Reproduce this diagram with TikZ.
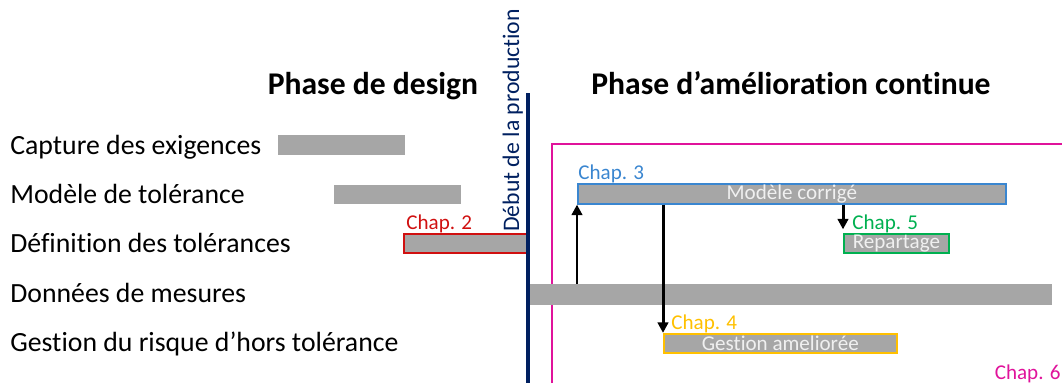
\documentclass[tikz,border=0pt]{standalone}
\usepackage{fontspec}
\setmainfont{Carlito}[Ligatures=NoCommon]
\usetikzlibrary{arrows.meta}
\definecolor{barGray}{HTML}{A6A6A6}
\definecolor{prodNavy}{HTML}{002060}
\definecolor{chapRed}{HTML}{D01010}
\definecolor{chapBlue}{HTML}{3A86D0}
\definecolor{chapGreen}{HTML}{00B050}
\definecolor{chapYellow}{HTML}{FFC000}
\definecolor{chapPink}{HTML}{E0139B}
\begin{document}
\begin{tikzpicture}[x=0.02cm, y=-0.02cm,
task/.style={fill=barGray, minimum height=0.39cm, inner sep=0pt, anchor=west, text=white!94!black, font=\fontsize{12}{14}\selectfont},
framed/.style={draw=#1, line width=1pt},
row_label/.style={anchor=base west, inner sep=0pt, font=\fontsize{15.8}{18}\selectfont},
phase/.style={anchor=base, inner sep=0pt, font=\bfseries\fontsize{18}{20}\selectfont},
chap/.style={anchor=south west, inner sep=0pt, font=\fontsize{12}{14}\selectfont},
link/.style={-{Triangle[length=6pt,width=6pt]}, line width=1.7pt}]
    \useasboundingbox (0,0) rectangle (1062,383);

    % Phases
    \node (design) [phase] at (373,94) {Phase de design};
    \node (amelio) [phase, anchor=base west] at (591,94) {Phase d’amélioration continue};

    % Rows
    \node (capture) [row_label] at (10,154) {Capture des exigences};
    \node (modtol) [row_label] at (10,203) {Modèle de tolérance};
    \node (deftol) [row_label] at (10,252) {Définition des tolérances};
    \node (mesures) [row_label] at (10,302) {Données de mesures};
    \node (risque) [row_label] at (10,351.5) {Gestion du risque d’hors tolérance};

    % Start of production and chapter 6 frame
    \coordinate (prodTop) at (528,93);
    \coordinate (prodBot) at (528,383);
    \coordinate (frameBL) at (552,383);
    \coordinate (frameTR) at (1062,144);
    \draw[chapPink, line width=1.4pt] (frameBL) |- (frameTR);
    \node (chap6) [chap, anchor=base east, text=chapPink] at (1061,379) {Chap. 6};

    % Bars
    \node (capbar) [task, minimum width=2.54cm] at (278,145) {};
    \node (modbar) [task, minimum width=2.54cm] at (334,194.5) {};
    \node (defbar) [task, framed=chapRed, minimum width=2.48cm] at (403,243.5) {};
    \node (mesbar) [task, minimum width=10.5cm, minimum height=0.42cm] at (527,294.5) {};
    \node (corbar) [task, framed=chapBlue, minimum width=8.56cm] at (577,194) {Modèle corrigé};
    \node (repbar) [task, framed=chapGreen, minimum width=2.1cm] at (843,243.5) {Repartage};
    \node (gesbar) [task, framed=chapYellow, minimum width=4.66cm] at (663,343.5) {Gestion ameliorée};

    \draw[prodNavy, line width=2.8pt] (prodTop) -- (prodBot);
    \node (prod) [rotate=90, anchor=base west, inner sep=0pt, text=prodNavy, font=\fontsize{13.5}{15}\selectfont] at (519,232) {Début de la production};

    % Chapters
    \node (chap2) [chap, text=chapRed, xshift=0.06cm] at (defbar.north west) {Chap. 2};
    \node (chap3) [chap, text=chapBlue, xshift=0.02cm] at (corbar.north west) {Chap. 3};
    \node (chap5) [chap, text=chapGreen, xshift=0.18cm] at (repbar.north west) {Chap. 5};
    \node (chap4) [chap, text=chapYellow, xshift=0.16cm] at (gesbar.north west) {Chap. 4};

    % Arrows
    \draw[link] (mesbar.north -| corbar.south west) -- (corbar.south west);
    \draw[link] (corbar.south -| gesbar.north west) -- (gesbar.north west);
    \draw[link, shorten >=2pt] (corbar.south -| repbar.north west) -- (repbar.north west);
\end{tikzpicture}
\end{document}
